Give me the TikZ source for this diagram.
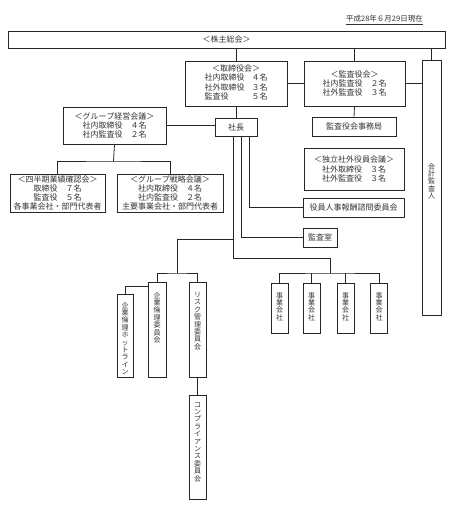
\documentclass[tikz,border=0pt]{standalone}
\usepackage{fontspec}
\newfontfamily\jp{Noto Sans CJK JP}
\begin{document}
\begin{tikzpicture}[x=1pt,y=-1pt,
  box/.style={draw=black!85, line width=0.8pt, inner sep=0pt, fill=white, text=black!80, font=\jp\fontsize{8}{9.2}\selectfont, align=center},
  vt/.style={inner sep=0pt, text=black!80, font=\jp\fontsize{7}{7.4}\selectfont, align=center, anchor=north},
  conn/.style={draw=black!85, line width=0.8pt}]
\fill[white] (0,0) rectangle (454,508);
\useasboundingbox (0,0) rectangle (454,508);

\node[anchor=east, inner sep=0pt, text=black!80, font=\jp\fontsize{7.5}{9}\selectfont] (date) at (423,20) {\underline{平成28年６月29日現在}};

\node[box, minimum width=437, minimum height=17] (kabu) at (226.5,39.5) {＜株主総会＞};
\node[box, minimum width=102, minimum height=45] (tori) at (236,83.5)
 {\begin{tabular}{@{}l@{\hspace{7pt}}l@{}}\multicolumn{2}{c}{＜取締役会＞}\\社内取締役&４名\\社外取締役&３名\\監査役&５名\end{tabular}};
\node[box, minimum width=101, minimum height=45] (kansa) at (354.5,83.5)
 {＜監査役会＞\\社内監査役　２名\\社外監査役　３名};
\node[box, minimum width=19, minimum height=255] (kaikei) at (431.5,187.5) {};
\node[vt] (kaikeit) at (431.5,163) {会\\計\\監\\査\\人};
\node[box, minimum width=84, minimum height=19] (jimu) at (354,126.5) {監査役会事務局};
\node[box, minimum width=42, minimum height=18] (shacho) at (236,127) {社長};
\node[box, minimum width=103, minimum height=37] (keiei) at (114.5,125.5)
 {＜グループ経営会議＞\\社内取締役　４名\\社内監査役　２名};
\node[box, minimum width=95, minimum height=38] (shihanki) at (57.5,193)
 {＜四半期業績確認会＞\\取締役　７名\\監査役　５名\\各事業会社・部門代表者};
\node[box, minimum width=106, minimum height=38] (senryaku) at (170,193)
 {＜グループ戦略会議＞\\社内取締役　４名\\社内監査役　２名\\主要事業会社・部門代表者};
\node[box, minimum width=100, minimum height=42] (dokuritsu) at (354,169)
 {＜独立社外役員会議＞\\社外取締役　３名\\社外監査役　３名};
\node[box, minimum width=101, minimum height=19] (houshu) at (353.5,207.5) {役員人事報酬諮問委員会};
\node[box, minimum width=34, minimum height=19] (kansashitsu) at (320,237.5) {監査室};

\node[box, minimum width=16, minimum height=83] (hotline) at (125,335.5) {};
\node[vt] (hotlinet) at (125,302) {企\\業\\倫\\理\\ホ\\ッ\\ト\\ラ\\イ\\ン};
\node[box, minimum width=18, minimum height=95] (rinri) at (157,329.5) {};
\node[vt] (rinrit) at (157,292) {企\\業\\倫\\理\\委\\員\\会};
\node[box, minimum width=17, minimum height=95] (risk) at (197.5,329.5) {};
\node[vt] (riskt) at (197.5,292) {リ\\ス\\ク\\管\\理\\委\\員\\会};
\node[box, minimum width=17, minimum height=104] (comp) at (197.5,447) {};
\node[vt] (compt) at (197.5,402) {コ\\ン\\プ\\ラ\\イ\\ア\\ン\\ス\\委\\員\\会};

\foreach \i/\x in {1/279.5,2/311.5,3/345.5,4/379}{
  \node[box, minimum width=17, minimum height=50] (jigyo\i) at (\x,308) {};
  \node[vt] (jigyot\i) at (\x,292) {事\\業\\会\\社};
}

% connectors
\draw[conn] (tori.north) -- (tori.north |- kabu.south);
\draw[conn] (kansa.north) -- (kansa.north |- kabu.south);
\draw[conn] (kaikei.north) -- (kaikei.north |- kabu.south);
\draw[conn] (tori.east) -- (kansa.west);
\draw[conn] (kansa.east) -- (kaikei.west |- kansa.east);
\draw[conn] (tori.south) -- (shacho.north);
\draw[conn] (kansa.south) -- (jimu.north);
\draw[conn] (keiei.east) -- (keiei.east -| shacho.west);
\coordinate (kj) at (113.5,161);
\draw[conn] (keiei.south) -- (kj);
\draw[conn] (shihanki.north) |- (kj) -| (senryaku.north);

\draw[conn] ([xshift=13pt]shacho.south) |- (houshu.west);
\draw[conn] ([xshift=5pt]shacho.south) |- (kansashitsu.west);
\coordinate (trunk) at (233,258);
\coordinate (lb) at (233,239);
\coordinate (lj) at (177,273);
\coordinate (rj) at (330,273);
\draw[conn] ([xshift=-3pt]shacho.south) -- (trunk);
\draw[conn] (lb) -| (lj);
\draw[conn] (rinri.north) |- (lj) -| (risk.north);
\draw[conn] ([yshift=-5pt]rinri.north west) -| (hotline.north);
\draw[conn] (risk.south) -- (comp.north);
\draw[conn] (trunk) -| (rj);
\draw[conn] (jigyo1.north) |- (rj) -| (jigyo4.north);
\draw[conn] (jigyo2.north) -- (jigyo2.north |- rj);
\draw[conn] (jigyo3.north) -- (jigyo3.north |- rj);
\end{tikzpicture}
\end{document}
